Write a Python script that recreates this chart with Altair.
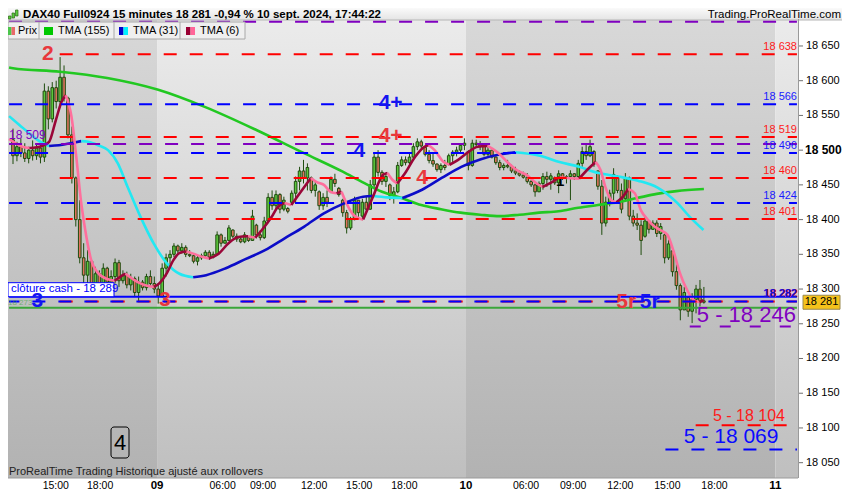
import altair as alt
import pandas as pd

# ---------------- data ----------------
# 15-minute candles (bar index 0 = first visible bar, Friday 6 Sept)
opens = [18515, 18492, 18505, 18496, 18488, 18500, 18492, 18503, 18490, 18585,
         18545, 18590, 18570, 18605, 18575, 18522, 18460, 18400, 18345, 18320,
         18340, 18300, 18322, 18305, 18330, 18310, 18318, 18338, 18312, 18320,
         18306, 18315, 18295, 18310, 18302, 18318, 18308, 18300, 18290, 18330,
         18345, 18350, 18362, 18355, 18360, 18350, 18348, 18340, 18345, 18348,
         18353, 18346, 18350, 18378, 18366, 18370, 18385, 18376, 18372, 18368,
         18374, 18370, 18392, 18378, 18374, 18398, 18432, 18420, 18436, 18415,
         18416, 18425, 18438, 18455, 18470, 18460, 18460, 18442, 18440, 18420,
         18432, 18440, 18458, 18445, 18428, 18410, 18388, 18400, 18428, 18405,
         18425, 18415, 18450, 18490, 18468, 18455, 18450, 18435, 18440, 18478,
         18486, 18482, 18490, 18505, 18512, 18504, 18494, 18485, 18480, 18472,
         18478, 18480, 18492, 18497, 18500, 18507, 18498, 18478, 18510, 18508,
         18505, 18494, 18500, 18490, 18482, 18475, 18478, 18476, 18470, 18467,
         18464, 18461, 18455, 18450, 18440, 18452, 18462, 18458, 18460, 18453,
         18466, 18460, 18462, 18466, 18462, 18481, 18498, 18492, 18498, 18470,
         18448, 18395, 18425, 18438, 18462, 18442, 18430, 18460, 18405, 18395,
         18392, 18376, 18398, 18386, 18395, 18380, 18378, 18345, 18355, 18325,
         18305, 18270, 18288, 18268, 18285, 18300, 18283]
highs = [18531, 18512, 18517, 18510, 18505, 18514, 18510, 18512, 18596, 18592,
         18598, 18600, 18634, 18622, 18577, 18534, 18462, 18428, 18366, 18356,
         18342, 18332, 18327, 18337, 18332, 18327, 18344, 18342, 18327, 18325,
         18322, 18318, 18318, 18313, 18322, 18327, 18318, 18308, 18337, 18351,
         18356, 18366, 18364, 18366, 18363, 18356, 18351, 18349, 18351, 18356,
         18356, 18354, 18383, 18380, 18375, 18392, 18386, 18380, 18375, 18382,
         18376, 18414, 18394, 18385, 18404, 18438, 18442, 18442, 18438, 18433,
         18418, 18442, 18462, 18476, 18486, 18481, 18462, 18457, 18442, 18438,
         18442, 18462, 18466, 18447, 18430, 18414, 18404, 18433, 18428, 18430,
         18433, 18457, 18495, 18500, 18471, 18467, 18452, 18447, 18483, 18491,
         18491, 18495, 18510, 18517, 18515, 18506, 18500, 18495, 18481, 18481,
         18486, 18495, 18500, 18505, 18510, 18517, 18500, 18515, 18515, 18513,
         18507, 18505, 18500, 18491, 18486, 18481, 18486, 18479, 18476, 18471,
         18469, 18467, 18457, 18452, 18455, 18467, 18469, 18467, 18462, 18471,
         18467, 18464, 18471, 18467, 18486, 18505, 18510, 18515, 18500, 18471,
         18457, 18433, 18443, 18474, 18464, 18452, 18467, 18462, 18414, 18409,
         18399, 18404, 18399, 18399, 18399, 18395, 18380, 18371, 18356, 18342,
         18308, 18303, 18289, 18294, 18306, 18313, 18303]
lows = [18480, 18484, 18490, 18483, 18481, 18485, 18486, 18481, 18483, 18530,
        18540, 18560, 18565, 18570, 18517, 18452, 18390, 18337, 18308, 18298,
        18289, 18298, 18289, 18298, 18303, 18301, 18308, 18303, 18308, 18301,
        18298, 18289, 18282, 18298, 18298, 18303, 18294, 18279, 18288, 18318,
        18332, 18346, 18351, 18351, 18346, 18346, 18337, 18334, 18342, 18346,
        18342, 18344, 18349, 18361, 18366, 18370, 18373, 18368, 18366, 18366,
        18368, 18370, 18373, 18370, 18372, 18396, 18414, 18414, 18409, 18412,
        18409, 18423, 18423, 18442, 18452, 18442, 18438, 18433, 18414, 18414,
        18418, 18438, 18447, 18433, 18404, 18380, 18385, 18399, 18404, 18399,
        18409, 18414, 18445, 18462, 18450, 18447, 18428, 18423, 18438, 18476,
        18478, 18480, 18488, 18500, 18502, 18491, 18481, 18476, 18469, 18467,
        18471, 18478, 18483, 18491, 18495, 18500, 18471, 18476, 18505, 18500,
        18491, 18491, 18488, 18479, 18471, 18471, 18474, 18467, 18464, 18462,
        18459, 18452, 18447, 18433, 18440, 18443, 18447, 18443, 18450, 18438,
        18457, 18452, 18428, 18457, 18459, 18476, 18486, 18490, 18476, 18443,
        18378, 18390, 18419, 18423, 18438, 18409, 18428, 18399, 18390, 18385,
        18349, 18374, 18380, 18385, 18375, 18371, 18337, 18342, 18318, 18299,
        18255, 18270, 18260, 18251, 18265, 18275, 18279]
closes = [18492, 18505, 18496, 18488, 18500, 18492, 18503, 18490, 18585, 18545,
          18590, 18570, 18605, 18575, 18522, 18460, 18400, 18345, 18320, 18340,
          18300, 18322, 18305, 18330, 18310, 18318, 18338, 18312, 18320, 18306,
          18315, 18295, 18310, 18302, 18318, 18308, 18300, 18290, 18330, 18345,
          18350, 18362, 18355, 18360, 18350, 18348, 18340, 18345, 18348, 18353,
          18346, 18350, 18378, 18366, 18370, 18388, 18376, 18372, 18368, 18378,
          18370, 18405, 18378, 18374, 18398, 18432, 18420, 18436, 18415, 18428,
          18412, 18438, 18455, 18470, 18460, 18475, 18442, 18450, 18420, 18432,
          18425, 18458, 18452, 18436, 18410, 18388, 18400, 18428, 18410, 18425,
          18415, 18450, 18490, 18468, 18455, 18462, 18435, 18440, 18478, 18486,
          18482, 18490, 18505, 18512, 18506, 18494, 18485, 18480, 18472, 18478,
          18475, 18492, 18497, 18500, 18507, 18510, 18478, 18510, 18508, 18505,
          18494, 18500, 18490, 18482, 18475, 18478, 18476, 18470, 18467, 18464,
          18461, 18455, 18450, 18440, 18452, 18462, 18458, 18463, 18453, 18466,
          18460, 18462, 18466, 18462, 18481, 18498, 18492, 18505, 18480, 18448,
          18395, 18425, 18438, 18465, 18442, 18415, 18460, 18405, 18395, 18392,
          18370, 18398, 18386, 18395, 18380, 18390, 18345, 18365, 18325, 18305,
          18270, 18295, 18268, 18285, 18300, 18283, 18281]

# moving averages (bar position, value)
tma155_bar = [-1, 0, 12, 24, 37, 49, 62, 74, 84, 89, 94, 99, 104, 109, 114, 119,
              124, 129, 134, 139, 144, 149, 154, 159, 164, 169, 176]
tma155_val = [18619, 18618, 18613, 18604, 18587, 18562, 18529, 18496, 18469, 18454,
              18440, 18431, 18421, 18415, 18410, 18407, 18405, 18407, 18410, 18412,
              18417, 18421, 18425, 18431, 18437, 18441, 18444]
tma31_bar = [-1.0, 1.7, 4.2, 6.7, 9.2, 11.7, 14.7, 17.4, 19.2, 21.7, 24.2, 26.7,
             29.2, 32.4, 35.9, 39.2, 42.4, 45.9, 49.2, 54.2, 59.2, 64.2, 69.2, 74.2,
             79.2, 84.2, 89.2, 91.7, 95.4, 99.2, 104.2, 109.2, 114.2, 119.2, 124.2,
             127.9, 134.2, 139.2, 144.2, 149.2, 154.2, 159.2, 164.2, 169.2, 172.4, 175.9]
tma31_val = [18549, 18536, 18524, 18513, 18506, 18507, 18510, 18513, 18512, 18507,
             18500, 18481, 18447, 18405, 18365, 18337, 18322, 18317, 18320, 18330,
             18343, 18356, 18373, 18390, 18409, 18423, 18433, 18434, 18432, 18431,
             18443, 18460, 18476, 18487, 18494, 18497, 18492, 18483, 18476, 18467,
             18462, 18456, 18446, 18424, 18404, 18385]
tma6_bar = [-1.0, 2.4, 4.2, 7.4, 9.2, 10.9, 12.4, 13.4, 14.9, 16.2, 17.4, 18.7,
            19.9, 21.7, 24.2, 25.9, 27.4, 28.7, 30.9, 33.4, 35.9, 37.4, 39.2, 40.9,
            42.4, 44.2, 45.9, 48.4, 49.9, 52.4, 54.9, 57.4, 59.9, 61.7, 63.4, 65.9,
            67.4, 69.2, 70.9, 72.4, 74.2, 75.9, 77.4, 79.2, 80.9, 82.4, 83.7, 84.9,
            86.7, 89.2, 91.7, 94.2, 95.4, 96.7, 97.9, 99.9, 102.4, 104.9, 105.9,
            107.4, 109.7, 111.2, 113.4, 115.9, 118.4, 120.9, 123.4, 125.9, 128.4,
            130.9, 133.4, 134.9, 136.7, 139.2, 141.2, 144.2, 146.7, 148.4, 149.7,
            150.9, 152.4, 153.7, 155.4, 156.7, 158.4, 159.9, 161.7, 163.4, 164.9,
            166.7, 168.4, 169.9, 171.7, 173.4, 174.9, 175.9]
tma6_val = [18516, 18505, 18503, 18506, 18512, 18543, 18570, 18579, 18548, 18486,
            18423, 18375, 18342, 18323, 18314, 18312, 18318, 18322, 18313, 18306,
            18303, 18309, 18323, 18342, 18352, 18354, 18351, 18346, 18344, 18351,
            18366, 18375, 18376, 18374, 18385, 18404, 18418, 18424, 18421, 18433,
            18447, 18460, 18454, 18450, 18440, 18438, 18440, 18424, 18407, 18400,
            18433, 18464, 18467, 18457, 18452, 18467, 18490, 18505, 18507, 18500,
            18483, 18479, 18486, 18497, 18505, 18506, 18497, 18483, 18471, 18464,
            18452, 18447, 18452, 18461, 18460, 18459, 18474, 18483, 18471, 18447,
            18428, 18425, 18433, 18444, 18438, 18414, 18400, 18390, 18385, 18378,
            18352, 18323, 18299, 18284, 18281, 18284]

# horizontal levels: price, colour, first bar, dash
level_price = [18685, 18638, 18566, 18519, 18509, 18496, 18460, 18424, 18401,
               18289, 18282, 18282, 18273, 18246, 18104, 18069]
level_color = ["#8000c0", "#ff0000", "#0000ff", "#ff0000", "#8000c0", "#0000ff",
               "#ff0000", "#0000ff", "#ff0000", "#0000ff", "#ff0000", "#0000ff",
               "#3aa63a", "#8000c0", "#ff0000", "#0000ff"]
level_start = [-1, 11.9, -1, 11.9, -1, -1, 11.9, -1, 11.9, -1, 11.9, -1, -1,
               172.4, 173.9, 166.2]
level_dashed = [True, True, True, True, True, True, True, True, True,
                False, True, True, False, True, True, True]

# right-edge level labels
rlabel_price = [18638, 18566, 18519, 18496, 18460, 18424, 18401]
rlabel_color = ["#ff1a1a", "#1a1aff", "#ff1a1a", "#1a1aff", "#ff1a1a", "#1a1aff", "#ff1a1a"]

# wave count labels: text, bar, price, colour
wave_text = ["2", "4+", "4+", "4", "4", "3", "3", "5r", "5r"]
wave_bar = [8.9, 96.2, 96.2, 88.2, 104.2, 6.2, 38.7, 156.2, 162.2]
wave_price = [18639, 18568, 18521, 18499, 18460, 18283, 18284, 18281, 18281]
wave_color = ["#e8383c", "#1414f0", "#e8383c", "#1414f0", "#e8383c", "#1414f0",
              "#e8383c", "#e8383c", "#1414f0"]

# price axis
ytick_vals = [18050, 18100, 18150, 18200, 18250, 18300, 18350, 18400, 18450,
              18500, 18550, 18600, 18650]

# time axis
tick_bar = [10.9, 22.2, 36.7, 53.4, 63.7, 76.7, 88.2, 99.7, 115.4, 130.7, 142.7,
            154.7, 166.7, 178.7, 194.2]
tick_label = ["15:00", "18:00", "09", "06:00", "09:00", "12:00", "15:00", "18:00",
              "10", "06:00", "09:00", "12:00", "15:00", "18:00", "11"]
day_start = [-2, 36.7, 115.4, 194.2]
day_end = [36.7, 115.4, 194.2, 202]
day_shade = ["dark", "light", "dark", "light"]

# ---------------- geometry ----------------
W, H = 790, 458
PAD_R, PAD_T, PAD_B = 44, 12, 14
PPP = 0.6945                       # pixels per index point
XMIN, XMAX = 0.0, 198.7
YMAX = 18687.4
YMIN = YMAX - H / PPP
PPB = W / (XMAX - XMIN)


def px_x(b):
    return (b - XMIN) * PPB


def px_y(p):
    return (YMAX - p) * PPP


xsc = alt.Scale(domain=[XMIN, XMAX], nice=False, zero=False)
ysc = alt.Scale(domain=[YMIN, YMAX], nice=False, zero=False)
FONT = "Liberation Sans"
one = pd.DataFrame({"k": [0]})


def grad(top, bottom):
    return {"gradient": "linear", "x1": 0, "y1": 0, "x2": 0, "y2": 1,
            "stops": [{"offset": 0, "color": top}, {"offset": 1, "color": bottom}]}


def prect(x0, x1, y0, y1, **kw):
    return alt.Chart(one).mark_rect(**kw).encode(
        x=alt.value(x0), x2=alt.value(x1), y=alt.value(y0), y2=alt.value(y1))


def ptext(x, y, text, **kw):
    return alt.Chart(one).mark_text(text=text, **kw).encode(x=alt.value(x), y=alt.value(y))


layers = []

# background day bands
band_df = pd.DataFrame({"x0": day_start, "x1": day_end, "shade": day_shade})
for shade, g in [("dark", grad("#d8d8d8", "#b2b2b2")), ("light", grad("#ebebeb", "#bfbfbf"))]:
    layers.append(
        alt.Chart(band_df).transform_filter(f"datum.shade == '{shade}'")
        .mark_rect(fill=g, clip=True)
        .encode(x=alt.X("x0:Q", scale=xsc, axis=None), x2="x1:Q",
                y=alt.value(0), y2=alt.value(H)))

# header strip
layers.append(prect(0, W + PAD_R, -12, 0, fill=grad("#fafafa", "#e4e4e4")))
layers.append(alt.Chart(one).mark_rule(color="#b5b5b5", strokeWidth=1).encode(
    x=alt.value(0), x2=alt.value(W + PAD_R), y=alt.value(0)))

red_start_px = px_x(11.9)
blue_off = (0 - (red_start_px + 2)) % 26  # blue dashes start 2px after red ones

candle_df = pd.DataFrame({"i": list(range(len(closes))), "o": opens, "h": highs,
                          "l": lows, "c": closes})
candle_df["dir"] = ["up" if c >= o else "down" for o, c in zip(opens, closes)]

layers.append(
    alt.Chart(candle_df).mark_rule(color="#1f4c0e", strokeWidth=1, clip=True).encode(
        x=alt.X("i:Q", scale=xsc, axis=None),
        y=alt.Y("l:Q", scale=ysc, axis=None), y2="h:Q"))
layers.append(
    alt.Chart(candle_df).mark_bar(size=2.6, stroke="#1f4c0e", strokeWidth=1, clip=True).encode(
        x=alt.X("i:Q", scale=xsc, axis=None),
        y=alt.Y("o:Q", scale=ysc, axis=None), y2="c:Q",
        fill=alt.Fill("dir:N", scale=alt.Scale(domain=["up", "down"], range=["#5cc83e", "#e0735e"]),
                      legend=None)))

# black marker "1"
layers.append(alt.Chart(pd.DataFrame({"b": [139.4], "p": [18456], "t": ["1"]})).mark_text(
    align="center", baseline="middle", font=FONT, fontSize=15, fontWeight="bold",
    color="#000000").encode(
    x=alt.X("b:Q", scale=xsc, axis=None), y=alt.Y("p:Q", scale=ysc, axis=None), text="t:N"))


# moving averages split in rising/falling runs
def runs(name, bars, vals, up, dn):
    rows = []
    seg = 0
    prev = None
    for k in range(len(bars) - 1):
        cls = up if vals[k + 1] > vals[k] else dn
        if cls != prev:
            seg += 1
            rows.append({"b": bars[k], "v": vals[k], "seg": f"{name}{seg}", "cls": cls})
            prev = cls
        rows.append({"b": bars[k + 1], "v": vals[k + 1], "seg": f"{name}{seg}", "cls": cls})
    return pd.DataFrame(rows)


ma_scale = alt.Scale(domain=["g", "bu", "bd", "ru", "rd"],
                     range=["#22c822", "#0c0cc8", "#22e8f2", "#9a0638", "#ff6f9c"])
for name, bars, vals, up, dn in [("g", tma155_bar, tma155_val, "g", "g"),
                                 ("b", tma31_bar, tma31_val, "bu", "bd"),
                                 ("r", tma6_bar, tma6_val, "ru", "rd")]:
    layers.append(
        alt.Chart(runs(name, bars, vals, up, dn)).mark_line(
            strokeWidth=2.6, clip=True, interpolate="monotone").encode(
            x=alt.X("b:Q", scale=xsc, axis=None),
            y=alt.Y("v:Q", scale=ysc, axis=None),
            detail="seg:N",
            color=alt.Color("cls:N", scale=ma_scale, legend=None)))

# level lines on top
for k in range(len(level_price)):
    kw = dict(color=level_color[k], strokeWidth=2, clip=True)
    if level_dashed[k]:
        kw["strokeDash"] = [13, 13]
        if k == 11:
            kw["strokeDashOffset"] = blue_off
        if k == 13:
            kw["strokeDash"] = [11, 19]
    row = pd.DataFrame({"p": [level_price[k]], "x0": [level_start[k]], "x1": [XMAX + 1]})
    layers.append(
        alt.Chart(row).mark_rule(**kw).encode(
            x=alt.X("x0:Q", scale=xsc, axis=None), x2="x1:Q",
            y=alt.Y("p:Q", scale=ysc, axis=None)))

# right-side level labels
rl_df = pd.DataFrame({"p": rlabel_price, "col": rlabel_color,
                      "t": [f"{p:,}".replace(",", " ") for p in rlabel_price]})
layers.append(
    alt.Chart(rl_df).mark_text(align="right", baseline="middle", dy=-7, font=FONT,
                               fontSize=11).encode(
        x=alt.value(W - 1), y=alt.Y("p:Q", scale=ysc, axis=None), text="t:N",
        color=alt.Color("col:N", scale=None)))
lbl282 = pd.DataFrame({"p": [18282], "t": ["18 282"]})
layers.append(alt.Chart(lbl282).mark_text(align="right", baseline="middle", dy=-8, dx=1,
                                          font=FONT, fontSize=11, fontWeight="bold",
                                          color="#ff2020").encode(
    x=alt.value(W - 1), y=alt.Y("p:Q", scale=ysc, axis=None), text="t:N"))
layers.append(alt.Chart(lbl282).mark_text(align="right", baseline="middle", dy=-8,
                                          font=FONT, fontSize=11, fontWeight="bold",
                                          color="#1010e0").encode(
    x=alt.value(W - 1), y=alt.Y("p:Q", scale=ysc, axis=None), text="t:N"))

# left labels
layers.append(alt.Chart(pd.DataFrame({"p": [18509], "t": ["18 509"]})).mark_text(
    align="left", baseline="middle", dy=-9, font=FONT, fontSize=12, color="#8000c0").encode(
    x=alt.value(1), y=alt.Y("p:Q", scale=ysc, axis=None), text="t:N"))
layers.append(alt.Chart(pd.DataFrame({"p": [18273], "t": ["18 273"]})).mark_text(
    align="left", baseline="middle", dy=-5, font=FONT, fontSize=8, color="#3aa63a",
    opacity=0.6).encode(
    x=alt.value(0), y=alt.Y("p:Q", scale=ysc, axis=None), text="t:N"))

# clôture cash box
yc = px_y(18289)
layers.append(prect(0, 106, yc - 14, yc, fill="#ffffff", stroke="#0000ff", strokeWidth=1))
layers.append(ptext(3, yc - 7.5, "clôture cash -  18 289", align="left", baseline="middle",
                    font=FONT, fontSize=11.5, color="#0000ff"))

# wave labels
wave_df = pd.DataFrame({"b": wave_bar, "p": wave_price, "t": wave_text, "col": wave_color})
layers.append(alt.Chart(wave_df).mark_text(baseline="middle", font=FONT, fontSize=21,
                                           fontWeight="bold").encode(
    x=alt.X("b:Q", scale=xsc, axis=None), y=alt.Y("p:Q", scale=ysc, axis=None),
    text="t:N", color=alt.Color("col:N", scale=None)))

# targets lower right
tgt_df = pd.DataFrame({"b": [174.2, 178.3, 170.9], "p": [18262, 18117, 18087],
                       "t": ["5 - 18 246", "5 -  18 104", "5 - 18 069"],
                       "col": ["#8000c0", "#ff1a1a", "#0a0aff"]})
for k, fs in enumerate([22, 16, 21]):
    layers.append(alt.Chart(tgt_df.iloc[[k]]).mark_text(
        align="left", baseline="middle", font=FONT, fontSize=fs).encode(
        x=alt.X("b:Q", scale=xsc, axis=None), y=alt.Y("p:Q", scale=ysc, axis=None),
        text="t:N", color=alt.Color("col:N", scale=None)))

# price axis on the right (drawn by hand)
layers.append(alt.Chart(one).mark_rule(color="#9a9a9a", strokeWidth=1).encode(
    x=alt.value(W + 0.5), y=alt.value(-1), y2=alt.value(H)))
ytk = pd.DataFrame({"p": ytick_vals,
                    "t": [f"{v:,}".replace(",", " ") for v in ytick_vals],
                    "big": [v == 18500 for v in ytick_vals]})
layers.append(alt.Chart(ytk).mark_rule(color="#707070", strokeWidth=1).encode(
    x=alt.value(W + 1), x2=alt.value(W + 5), y=alt.Y("p:Q", scale=ysc, axis=None)))
layers.append(alt.Chart(ytk).transform_filter("!datum.big").mark_text(
    align="left", baseline="middle", font=FONT, fontSize=11, color="#000000").encode(
    x=alt.value(W + 8), y=alt.Y("p:Q", scale=ysc, axis=None), text="t:N"))
layers.append(alt.Chart(ytk).transform_filter("datum.big").mark_text(
    align="left", baseline="middle", font=FONT, fontSize=12, fontWeight="bold",
    color="#000000").encode(
    x=alt.value(W + 7), y=alt.Y("p:Q", scale=ysc, axis=None), text="t:N"))

# current price box on the axis
yp = px_y(18281)
layers.append(prect(795, 832, yp - 7, yp + 7, fill="#f5c21b", stroke="#9a8a50", strokeWidth=1))
layers.append(ptext(813.5, yp, "18 281", align="center", baseline="middle", font=FONT,
                    fontSize=11, color="#000000"))

# wave-degree box "4"
layers.append(prect(103, 121, 407, 438, fill="#c4c4c4", fillOpacity=0.0, stroke="#000000",
                    strokeWidth=1, cornerRadius=3))
layers.append(ptext(112, 423, "4", align="center", baseline="middle", font=FONT,
                    fontSize=22, color="#000000"))

# bottom note
layers.append(ptext(1, 452, "ProRealTime Trading  Historique ajusté aux rollovers",
                    align="left", baseline="middle", font=FONT, fontSize=11,
                    color="#222222"))

# plot bottom border
layers.append(alt.Chart(one).mark_rule(color="#9a9a9a", strokeWidth=1).encode(
    x=alt.value(0), x2=alt.value(W), y=alt.value(H)))

# time axis labels
tick_df = pd.DataFrame({"b": tick_bar, "t": tick_label,
                        "day": [len(t) == 2 for t in tick_label]})
for is_day, fw, fs in [(False, "normal", 10.5), (True, "bold", 11.5)]:
    layers.append(alt.Chart(tick_df).transform_filter(
        "datum.day" if is_day else "!datum.day").mark_text(
        align="center", baseline="alphabetic", font=FONT, fontSize=fs, fontWeight=fw,
        color="#000000").encode(
        x=alt.X("b:Q", scale=xsc, axis=None), y=alt.value(H + 11), text="t:N"))

# legend strip
layers.append(prect(0, 237, 2, 19, fill="#efefef", stroke="#a8a8a8", strokeWidth=1))
for sx in [31, 106, 172]:
    layers.append(alt.Chart(one).mark_rule(color="#a8a8a8", strokeWidth=1).encode(
        x=alt.value(sx), y=alt.value(2), y2=alt.value(19)))
icons = [(0, 3.5, "#4cc64c", "#e86a6a"), (36, 45, "#00c800", "#00c800"),
         (111, 115.5, "#0000c8", "#00f0ff"), (178, 182.5, "#990033", "#ff6699")]
for a, m, c1, c2 in icons:
    b = a + 9 if a > 0 else 7
    layers.append(prect(a, m, 7, 15, fill=c1))
    layers.append(prect(m, b, 7, 15, fill=c2))
for x, t in [(10, "Prix"), (50, "TMA (155)"), (125, "TMA (31)"), (192, "TMA (6)")]:
    layers.append(ptext(x, 11, t, align="left", baseline="middle", font=FONT, fontSize=11,
                        color="#000000"))

# header texts
for bx, y0, y1 in [(0.5, -4, -1), (4, -7, -2), (7.5, -10, -4)]:
    layers.append(prect(bx, bx + 2.5, y0, y1, fill="#5ccb3c", stroke="#2a6a14", strokeWidth=0.7))
layers.append(ptext(15, -5.5, "DAX40 Full0924 15 minutes 18 281 -0,94 % 10 sept. 2024, 17:44:22",
                    align="left", baseline="middle", font=FONT, fontSize=11.5,
                    fontWeight="bold", color="#000000"))
layers.append(ptext(W + PAD_R - 1, -5.5, "Trading.ProRealTime.com", align="right",
                    baseline="middle", font=FONT, fontSize=11.5, color="#000000"))

chart = alt.layer(*layers).properties(
    width=W, height=H,
    autosize=alt.AutoSizeParams(type="none"),
    padding={"left": 0, "top": PAD_T, "right": PAD_R, "bottom": PAD_B},
    background="#ffffff",
).configure_view(strokeWidth=0)

chart.save("out.html", embed_options={"renderer": "svg", "actions": False})
